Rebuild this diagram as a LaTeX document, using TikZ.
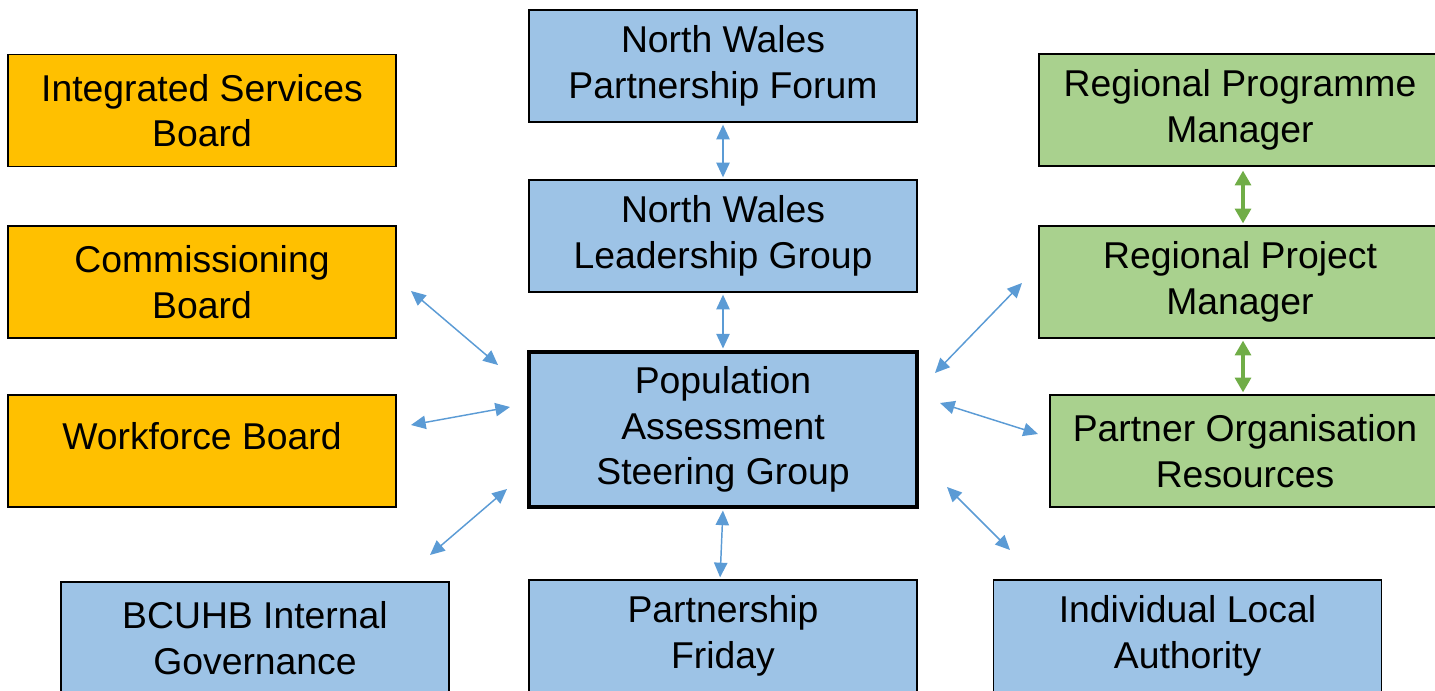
\documentclass[tikz,border=0pt]{standalone}
\usepackage{fontspec}
\setmainfont{Liberation Sans}
\usetikzlibrary{arrows.meta}

\definecolor{boardorange}{HTML}{FFC000}
\definecolor{groupblue}{HTML}{9DC3E6}
\definecolor{staffgreen}{HTML}{A9D18E}
\definecolor{linkblue}{HTML}{5B9BD5}
\definecolor{teamgreen}{HTML}{70AD47}

\tikzset{
  orgbox/.style={draw=black, line width=1pt, minimum width=291pt, minimum height=84pt,
    inner sep=0pt, align=center, font=\fontsize{28}{34}\selectfont},
  boardbox/.style={orgbox, fill=boardorange},
  groupbox/.style={orgbox, fill=groupblue},
  staffbox/.style={orgbox, fill=staffgreen, minimum width=301.5pt},
  bluelink/.style={draw=linkblue, line width=1.1pt,
    {Triangle[length=11pt,width=10pt]}-{Triangle[length=11pt,width=10pt]}},
  greenlink/.style={draw=teamgreen, line width=2.3pt,
    {Triangle[length=11pt,width=12pt]}-{Triangle[length=11pt,width=12pt]}},
}

\begin{document}
\begin{tikzpicture}[x=0.75pt,y=0.75pt,yscale=-1,xscale=1]
\clip (0,0) rectangle (1435,691);

% Boards (left)
\node [boardbox] (isb) at (202,110.5) {Integrated Services\\Board};
\node [boardbox] (cb) at (202,282) {Commissioning\\Board};
\node [boardbox, text depth=22pt] (wb) at (202,451) {Workforce Board};

% Groups (centre and bottom)
\node [groupbox] (nwpf) at (723,66) {North Wales\\Partnership Forum};
\node [groupbox] (nwlg) at (723,236) {North Wales\\Leadership Group};
\node [groupbox, line width=3pt, minimum height=115.5pt] (pasg) at (723,429.5)
  {Population\\Assessment\\Steering Group};
\node [groupbox] (bcuhb) at (255,638) {BCUHB Internal\\Governance};
\node [groupbox] (pf) at (723,636) {Partnership\\Friday};
\node [groupbox] (ila) at (1187.5,636) {Individual Local\\Authority};

% Staff (right)
\node [staffbox] (rpgm) at (1240,110) {Regional Programme\\Manager};
\node [staffbox] (rpjm) at (1240,282) {Regional Project\\Manager};
\node [staffbox, minimum width=292.5pt] (por) at (1245,451) {Partner Organisation\\Resources};

% Free ends of the diagonal links
\coordinate (cbE) at (411,291);
\coordinate (cbP) at (498,365);
\coordinate (wbE) at (411,425);
\coordinate (wbP) at (510,407);
\coordinate (bcN) at (430,555);
\coordinate (bcP) at (507,489);
\coordinate (rpW) at (1022,283);
\coordinate (rpP) at (935,373);
\coordinate (poW) at (1038,434);
\coordinate (poP) at (940,403);
\coordinate (ilN) at (1010,550);
\coordinate (ilP) at (947,487);
\coordinate (teamA) at (1243,0);

% Links
\draw [bluelink, shorten <=1.5pt, shorten >=1.5pt] (nwpf.south) -- (nwlg.north);
\draw [bluelink, shorten <=1.5pt, shorten >=1.5pt] (nwlg.south) -- (pasg.north);
\draw [bluelink, shorten <=1.5pt, shorten >=1.5pt] (pasg.south) -- ([xshift=-2.25pt]pf.north);
\draw [bluelink] (cbE) -- (cbP);
\draw [bluelink] (wbE) -- (wbP);
\draw [bluelink] (bcN) -- (bcP);
\draw [bluelink] (rpW) -- (rpP);
\draw [bluelink] (poW) -- (poP);
\draw [bluelink] (ilN) -- (ilP);
\draw [greenlink, shorten <=3pt, shorten >=1.5pt] (teamA |- rpgm.south) -- (teamA |- rpjm.north);
\draw [greenlink, shorten <=1.5pt, shorten >=1.5pt] (teamA |- rpjm.south) -- (teamA |- por.north);

\end{tikzpicture}
\end{document}
